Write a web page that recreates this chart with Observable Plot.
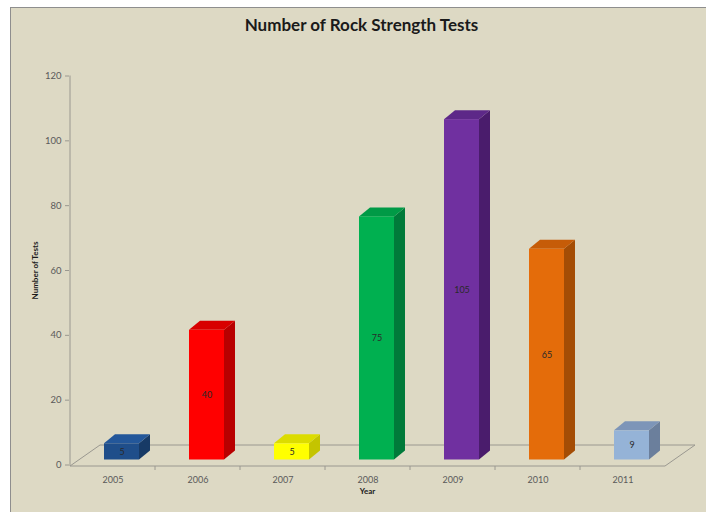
<!DOCTYPE html>
<html>
<head>
<meta charset="utf-8">
<script src="https://cdn.jsdelivr.net/npm/d3@7"></script>
<script src="https://cdn.jsdelivr.net/npm/@observablehq/plot@0.6"></script>
<style>
  html, body { margin: 0; padding: 0; background: #ffffff; overflow: hidden; }
  #chart svg {
    position: absolute; left: 10px; top: 7px;
    background: #ddd9c4;
    border-left: 1px solid #8e8e8e;
    border-top: 1px solid #8e8e8e;
  }
</style>
</head>
<body>
<div id="chart"></div>
<script>
// Rock strength tests per year
const years = ["2005", "2006", "2007", "2008", "2009", "2010", "2011"];
const tests = [5, 40, 5, 75, 105, 65, 9];
const yTicks = [0, 20, 40, 60, 80, 100, 120];

// Face colours for each year's bar: front, right side, top
const frontColors = ["#1f4e8a", "#ff0000", "#ffff00", "#00b050", "#7030a0", "#e46c0a", "#95b3d7"];
const sideColors  = ["#173a66", "#b80000", "#c4c400", "#007a3a", "#4a1c6c", "#a44d05", "#6b7f9c"];
const topColors   = ["#23579a", "#d80000", "#dcdc00", "#009a46", "#5d2888", "#c65c08", "#7d95b8"];

const rows = years.map((year, i) => ({year, tests: tests[i], i}));

// 3D look: bars sit mid-depth on a floor drawn in oblique projection
const barInset = 25;     // px each side of the band
const barShiftX = 9;     // bars pushed back into the floor
const barShiftY = -5;
const depthX = 11;       // bar depth
const depthY = 9;
const floorX = 30;       // floor depth
const floorY = 21;

function bandStep(x) { return x(years[1]) - x(years[0]); }

// Floor outline, value axis line and the category tick marks on the floor's front edge
function floor(index, scales) {
  const {x, y} = scales;
  const step = bandStep(x);
  const left = x(years[0]);
  const right = x(years[years.length - 1]) + step;
  const y0 = y(0) + 1.5;
  const g = d3.create("svg:g").attr("fill", "none").attr("stroke", "#9a9890").attr("stroke-width", 1);
  g.append("polyline").attr("points", [[left, y0], [left + floorX, y0 - floorY], [right + floorX, y0 - floorY], [right, y0]].join(" "));
  g.append("line").attr("x1", left).attr("x2", right).attr("y1", y0).attr("y2", y0);
  g.append("line").attr("x1", left).attr("x2", left).attr("y1", y(120)).attr("y2", y0);
  for (let k = 1; k < years.length; ++k) {
    const xt = left + k * step;
    g.append("line").attr("x1", xt).attr("x2", xt).attr("y1", y0).attr("y2", y0 + 4);
  }
  return g.node();
}

// Three visible faces of every bar
function bars3d(index, scales) {
  const {x, y} = scales;
  const step = bandStep(x);
  const g = d3.create("svg:g");
  for (const r of rows) {
    const x0 = x(r.year) + barInset + barShiftX;
    const x1 = x(r.year) + step - barInset + barShiftX;
    const yb = y(0) + barShiftY;
    const yt = y(r.tests) + barShiftY;
    g.append("polygon")
      .attr("fill", sideColors[r.i])
      .attr("points", [[x1, yb], [x1 + depthX, yb - depthY], [x1 + depthX, yt - depthY], [x1, yt]].join(" "));
    g.append("polygon")
      .attr("fill", topColors[r.i])
      .attr("points", [[x0, yt], [x1, yt], [x1 + depthX, yt - depthY], [x0 + depthX, yt - depthY]].join(" "));
    g.append("rect")
      .attr("fill", frontColors[r.i])
      .attr("x", x0).attr("y", yt)
      .attr("width", x1 - x0).attr("height", yb - yt);
  }
  return g.node();
}

const font = "Lato, 'Open Sans', sans-serif";

const chart = Plot.plot({
  width: 695,
  height: 504,
  marginLeft: 58,
  marginRight: 41,
  marginTop: 67.5,
  marginBottom: 47.5,
  style: {fontFamily: font, background: "#ddd9c4", overflow: "visible"},
  x: {type: "band", domain: years, padding: 0},
  y: {domain: [0, 120]},
  marks: [
    floor,
    bars3d,
    Plot.axisY({ticks: yTicks, tickSize: 4, tickPadding: 4, fontSize: 9.5, color: "#5a5a5a", stroke: "#9a9890", label: null}),
    Plot.axisX({tickSize: 0, tickPadding: 12, fontSize: 9, color: "#5a5a5a", label: null}),
    Plot.text(rows, {
      x: "year", y: (d) => d.tests / 2,
      text: (d) => String(d.tests),
      dx: barShiftX, dy: barShiftY,
      fontSize: 9, fill: "#2a2a2a"
    }),
    Plot.text(["Number of Rock Strength Tests"], {
      frameAnchor: "top", dx: -6, dy: -57, fontSize: 17, fontWeight: "bold", fill: "#1a1a1a"
    }),
    Plot.text(["Number of Tests"], {
      frameAnchor: "left", textAnchor: "middle", rotate: -90, dx: -34, fontSize: 8, fontWeight: "bold", fill: "#1a1a1a"
    }),
    Plot.text(["Year"], {
      frameAnchor: "bottom", dy: 29, fontSize: 8, fontWeight: "bold", fill: "#1a1a1a"
    })
  ]
});

document.getElementById("chart").append(chart);
</script>
</body>
</html>
